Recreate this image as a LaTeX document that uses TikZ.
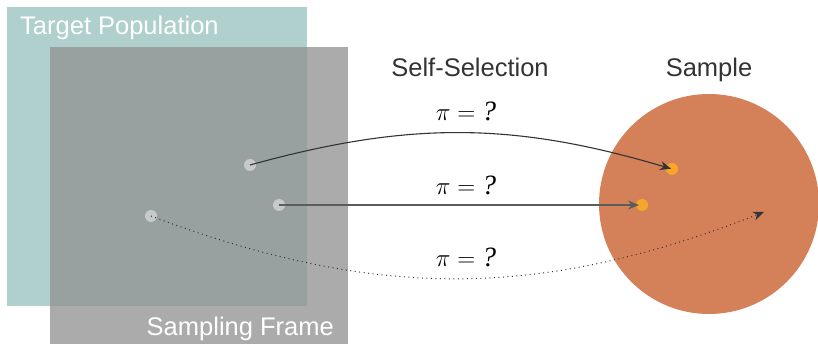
\documentclass[tikz,border=0pt]{standalone}
\usepackage{fontspec}
\setmainfont{Liberation Sans}
\newfontfamily\qfont{Liberation Serif}
\usetikzlibrary{arrows.meta}

\definecolor{popteal}{HTML}{AFD0CC}
\definecolor{framegray}{HTML}{949494}
\definecolor{samplecol}{HTML}{D4815A}
\definecolor{unitorange}{HTML}{F5A62B}
\definecolor{labelgray}{HTML}{333333}

\newcommand{\probq}{$\pi = \mbox{\qfont\itshape ?}$}

\tikzset{
  unit/.style={circle,fill=white,fill opacity=0.45,inner sep=0pt,minimum size=12pt},
  picked/.style={circle,fill=unitorange,inner sep=0pt,minimum size=12pt},
  heading/.style={text=labelgray,font=\fontsize{25.5}{30}\selectfont,anchor=base},
  boxlabel/.style={text=white,font=\fontsize{25.5}{30}\selectfont},
  prob/.style={font=\fontsize{28}{32}\selectfont,anchor=base},
  link/.style={draw=labelgray,line width=1.1pt,-{Stealth[length=11pt,width=9pt]}},
}

\begin{document}
\begin{tikzpicture}[x=1pt,y=-1pt]
  \useasboundingbox (0,0) rectangle (818,344);
  % population and frame
  \fill[popteal] (7,7) rectangle (307,306);
  \fill[framegray,fill opacity=0.785] (50,47) rectangle (348,344);
  \node[boxlabel,anchor=base west,inner sep=0pt] (tpop) at (20,35) {Target Population};
  \node[boxlabel,anchor=base east,inner sep=0pt] (sframe) at (334,335) {Sampling Frame};
  % sample
  \fill[samplecol] (709,204) circle (110);
  \node[heading] (selsel) at (470,77) {Self-Selection};
  \node[heading] (smp) at (709,77) {Sample};
  % units
  \node[unit] (u1) at (250,165) {};
  \node[unit] (u2) at (279,205) {};
  \node[unit] (u3) at (151,216) {};
  \node[picked] (s1) at (672,169) {};
  \node[picked] (s2) at (642,205) {};
  \coordinate (s3) at (764,212);
  % inclusion probabilities
  \draw[link,shorten >=1pt] (u1.center) to[bend left=16] (s1.center);
  \draw[link,draw=labelgray!80,line width=1.4pt,shorten >=3pt] (u2.center) -- (s2.center);
  \draw[link,line width=1pt,dash pattern=on 1pt off 3.5pt] (u3.center) to[bend right=21] (s3);
  \node[prob] (p1) at (466,121) {\probq};
  \node[prob] (p2) at (466,195) {\probq};
  \node[prob] (p3) at (466,267) {\probq};
\end{tikzpicture}
\end{document}
